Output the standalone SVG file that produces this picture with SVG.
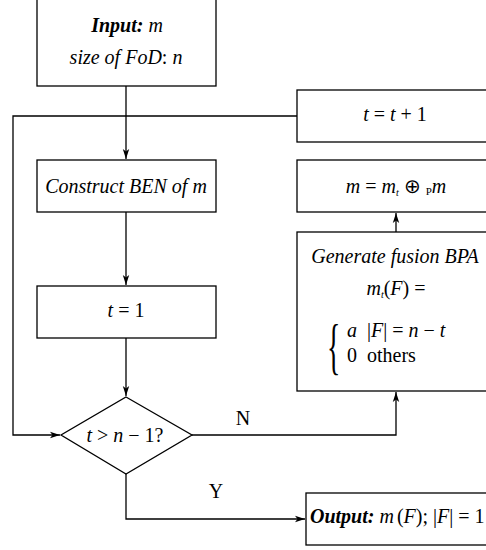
<svg xmlns="http://www.w3.org/2000/svg" width="486" height="550" viewBox="0 0 486 550">
<style>
.box{fill:#fff;stroke:#000;stroke-width:1.3}
.ln{fill:none;stroke:#000;stroke-width:1.3}
text{font-family:"Liberation Serif","Times New Roman",serif;font-size:20px;fill:#000}
.c{text-anchor:middle}
.i{font-style:italic}
.bi{font-style:italic;font-weight:bold}
</style>
<defs>
<marker id="ar" markerUnits="userSpaceOnUse" markerWidth="10" markerHeight="8" refX="10" refY="4" orient="auto">
<path d="M0,0.8 L10,4 L0,7.2 L2.5,4 Z" fill="#000"/>
</marker>
</defs>
<g id="connectors">
<path class="ln" d="M126,86 V159" marker-end="url(#ar)"/>
<path class="ln" d="M126,212 V285" marker-end="url(#ar)"/>
<path class="ln" d="M126,338 V396" marker-end="url(#ar)"/>
<path class="ln" d="M192,435 H396 V392" marker-end="url(#ar)"/>
<path class="ln" d="M396,232 V213" marker-end="url(#ar)"/>
<path class="ln" d="M297,116 H13 V435 H60" marker-end="url(#ar)"/>
<path class="ln" d="M126,474 V519 H305" marker-end="url(#ar)"/>
<text x="243" y="425" class="c">N</text>
<text x="216" y="498" class="c">Y</text>
</g>
<g id="input">
<rect class="box" x="37" y="-5" width="179" height="91"/>
<text x="127" y="32" class="c"><tspan class="bi">Input:</tspan><tspan class="i"> m</tspan></text>
<text x="126" y="64" class="c"><tspan class="i">size of FoD</tspan>: <tspan class="i">n</tspan></text>
</g>
<g id="increment">
<rect class="box" x="297" y="90" width="197" height="52"/>
<text x="395" y="121" class="c"><tspan class="i">t</tspan> = <tspan class="i">t</tspan> + 1</text>
</g>
<g id="construct">
<rect class="box" x="37" y="160" width="179" height="52"/>
<text x="126" y="193" class="c i">Construct BEN of m</text>
</g>
<g id="update">
<rect class="box" x="297" y="160" width="197" height="52"/>
<text x="396" y="193" class="c"><tspan class="i">m</tspan> = <tspan class="i">m</tspan><tspan class="i" style="font-size:10px" dy="3">t</tspan><tspan dy="-3"> ⊕ </tspan><tspan style="font-size:11px" dy="2">P</tspan><tspan class="i" dy="-2">m</tspan></text>
</g>
<g id="init">
<rect class="box" x="37" y="286" width="179" height="52"/>
<text x="126" y="317" class="c"><tspan class="i">t</tspan> = 1</text>
</g>
<g id="generate">
<rect class="box" x="297" y="232" width="197" height="159"/>
<text x="395" y="263" class="c i">Generate fusion BPA</text>
<text x="396" y="295" class="c"><tspan class="i">m</tspan><tspan class="i" style="font-size:10px" dy="3">t</tspan><tspan dy="-3">(</tspan><tspan class="i">F</tspan>) =</text>
<text x="0" y="0" style="font-size:62px" transform="translate(327,367) scale(0.45,1)">{</text>
<text x="347" y="337"><tspan class="i">a</tspan><tspan dx="10">|</tspan><tspan class="i">F</tspan>| = <tspan class="i">n</tspan> − <tspan class="i">t</tspan></text>
<text x="347" y="362">0<tspan dx="10">others</tspan></text>
</g>
<g id="decision">
<polygon class="box" points="126,397 192,435 126,474 61,435"/>
<text x="125" y="442" class="c"><tspan class="i">t</tspan> &gt; <tspan class="i">n</tspan> − 1?</text>
</g>
<g id="output">
<rect class="box" x="306" y="493" width="190" height="52"/>
<text x="310" y="523"><tspan class="bi">Output:</tspan> <tspan class="i">m</tspan><tspan dx="3">(</tspan><tspan class="i">F</tspan>); |<tspan class="i">F</tspan>| = 1</text>
</g>
</svg>
